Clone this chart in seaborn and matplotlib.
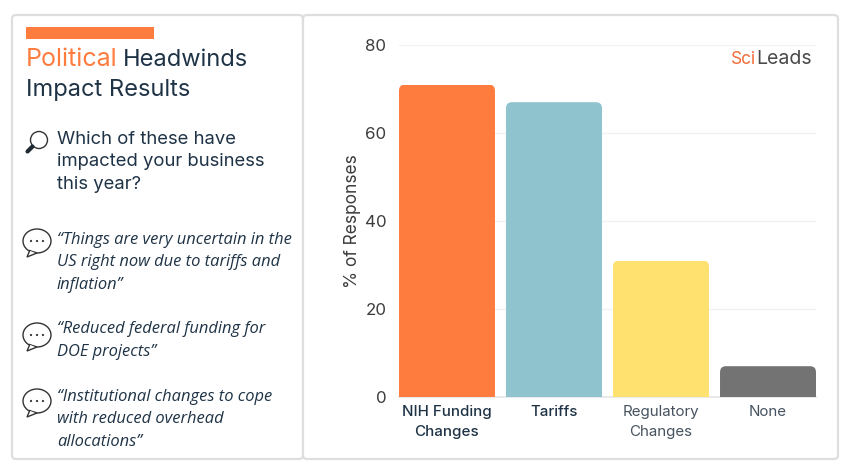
import matplotlib
matplotlib.use("Agg")
import matplotlib.pyplot as plt
import seaborn as sns
from matplotlib.patches import FancyBboxPatch, Rectangle, Circle, Ellipse, Polygon

categories = ["NIH Funding\nChanges", "Tariffs", "Regulatory\nChanges", "None"]
values = [71, 67, 31, 7]
bar_colors = ["#FF7C3F", "#8FC3CD", "#FFE170", "#737373"]
label_colors = ["#1F3346", "#1F3346", "#46535F", "#46535F"]
label_weights = ["medium", "medium", "normal", "normal"]
y_ticks = [0, 20, 40, 60, 80]

question = ["Which of these have", "impacted your business", "this year?"]
quotes = [
    ["\u201cThings are very uncertain in the", "US right now due to tariffs and", "inflation\u201d"],
    ["\u201cReduced federal funding for", "DOE projects\u201d"],
    ["\u201cInstitutional changes to cope", "with reduced overhead", "allocations\u201d"],
]
quote_baselines = [[244, 266, 289], [333, 356], [401, 423, 446]]
bubble_centers = [241, 335, 401]

ORANGE = "#FF7C3F"
DARK = "#1F3346"
HEAD_FONT = "Inter"
QUOTE_FONT = "Open Sans"

sns.set_theme(style="white")
fig = plt.figure(figsize=(8.5, 4.73), dpi=100, facecolor="white")

# background layer in pixel coordinates
bg = fig.add_axes([0, 0, 1, 1], zorder=0)
bg.set_xlim(0, 850)
bg.set_ylim(473, 0)
bg.axis("off")

for x0, x1 in [(12, 303), (303, 838)]:
    bg.add_patch(FancyBboxPatch((x0, 15), x1 - x0, 444, boxstyle="round,pad=0,rounding_size=4",
                                fc="white", ec="#DEDEDE", lw=1.6))

bg.add_patch(Rectangle((26, 27), 128, 12, fc=ORANGE, ec="none"))

bg.text(26, 66, "Political", color=ORANGE, fontsize=18, family=HEAD_FONT, va="baseline")
bg.text(123, 66, "Headwinds", color=DARK, fontsize=17, family=HEAD_FONT, va="baseline")
bg.text(26, 96, "Impact Results", color=DARK, fontsize=17, family=HEAD_FONT, va="baseline")

for line, base in zip(question, [144, 166, 189]):
    bg.text(57, base, line, color=DARK, fontsize=13.3, family=HEAD_FONT, va="baseline")

# magnifier
bg.add_patch(Circle((39, 140), 8.5, fc="white", ec="#333333", lw=1))
bg.plot([32.5, 27.5], [146.5, 151.5], color="#1F2A33", lw=3, solid_capstyle="round")

# speech bubbles
for cy in bubble_centers:
    bg.add_patch(Ellipse((37, cy), 28, 24, fc="white", ec="#333333", lw=1))
    bg.add_patch(Polygon([(30, cy + 9), (27, cy + 16), (37, cy + 12)], fc="white", ec="#333333", lw=1))
    bg.add_patch(Ellipse((37, cy), 25, 21, fc="white", ec="none"))
    for dx in [-6, 0, 6]:
        bg.add_patch(Circle((37 + dx, cy), 1.1, fc="#333333", ec="none"))

for lines, bases in zip(quotes, quote_baselines):
    for line, base in zip(lines, bases):
        bg.text(57, base, line, color=DARK, fontsize=11.9, family=QUOTE_FONT, style="italic", va="baseline")

bg.text(731, 64, "Sci", color="#F26B38", fontsize=12.5, family=HEAD_FONT, va="baseline")
bg.text(756, 64, "Leads", color="#4A4A4A", fontsize=14, family=HEAD_FONT, va="baseline")

# chart
ax = fig.add_axes([399 / 850, 1 - 397 / 473, (816 - 399) / 850, (397 - 45) / 473], zorder=1)
ax.patch.set_alpha(0)
sns.barplot(x=categories, y=values, hue=categories, palette=bar_colors, legend=False,
            width=0.897, saturation=1, linewidth=0, ax=ax, zorder=3)
ax.set_xlim(-0.4485, 3.4485)
ax.set_ylim(0, 80)
ax.set_yticks(y_ticks)
ax.grid(axis="y", color="#F1F1F1", lw=1)
ax.set_axisbelow(True)
sns.despine(ax=ax, left=True, top=True, right=True)
ax.spines["bottom"].set_color("#E6E6E6")
ax.tick_params(axis="both", length=0)
ax.tick_params(axis="y", pad=9, labelsize=12.2, labelcolor="#3C3C3C")
ax.tick_params(axis="x", pad=6, labelsize=10.9)
for lab, col, wt in zip(ax.get_xticklabels(), label_colors, label_weights):
    lab.set_color(col)
    lab.set_family(HEAD_FONT)
    lab.set_fontweight(wt)
    lab.set_linespacing(1.5)
for lab in ax.get_yticklabels():
    lab.set_family(HEAD_FONT)
ax.set_xlabel("")
ax.set_ylabel("% of Responses", fontsize=12.5, color="#3C3C3C", family=HEAD_FONT, labelpad=3)

# round the top corners of the bars
radius_px = 6
for bar in ax.patches:
    radius = radius_px / 107
    aspect = (radius_px / 4.4) / radius
    clip = FancyBboxPatch((bar.get_x(), -10), bar.get_width(), bar.get_height() + 10,
                          boxstyle=f"round,pad=0,rounding_size={radius}", mutation_aspect=aspect,
                          transform=ax.transData, fc="none", ec="none")
    ax.add_patch(clip)
    bar.set_clip_path(clip)

fig.savefig("out.png", dpi=100)
